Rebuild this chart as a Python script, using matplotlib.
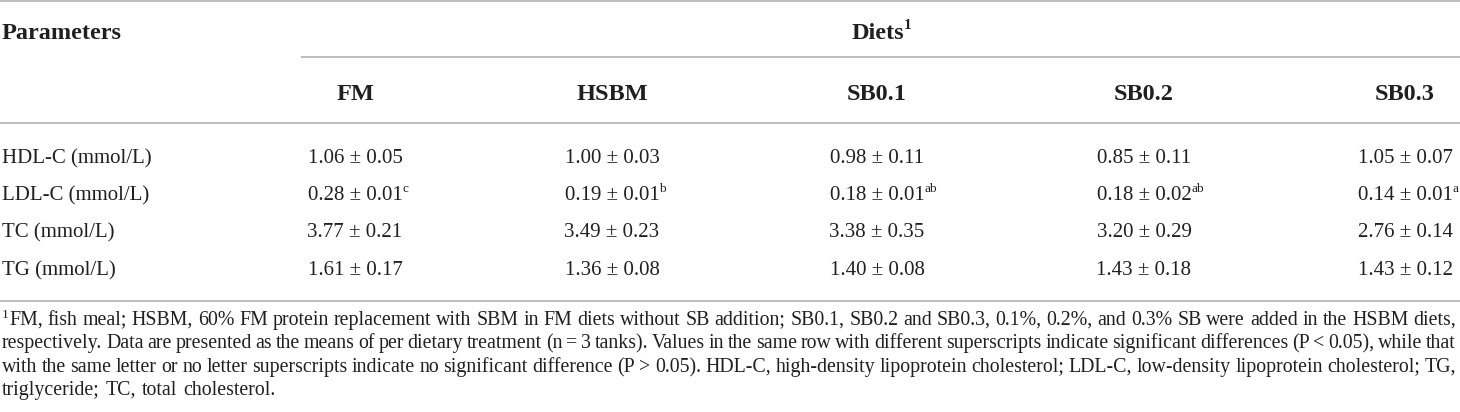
import math
import matplotlib
matplotlib.use("Agg")
import matplotlib.pyplot as plt
from matplotlib.font_manager import FontProperties, findfont, get_font

# ---------------- data ----------------
parameters = ["HDL-C (mmol/L)", "LDL-C (mmol/L)", "TC (mmol/L)", "TG (mmol/L)"]
diets = ["FM", "HSBM", "SB0.1", "SB0.2", "SB0.3"]
means = [
    ["1.06", "1.00", "0.98", "0.85", "1.05"],
    ["0.28", "0.19", "0.18", "0.18", "0.14"],
    ["3.77", "3.49", "3.38", "3.20", "2.76"],
    ["1.61", "1.36", "1.40", "1.43", "1.43"],
]
sds = [
    ["0.05", "0.03", "0.11", "0.11", "0.07"],
    ["0.01", "0.01", "0.01", "0.02", "0.01"],
    ["0.21", "0.23", "0.35", "0.29", "0.14"],
    ["0.17", "0.08", "0.08", "0.18", "0.12"],
]
letters = [
    ["", "", "", "", ""],
    ["c", "b", "ab", "ab", "a"],
    ["", "", "", "", ""],
    ["", "", "", "", ""],
]
header_left = "Parameters"
header_group = "Diets"
footnote_lines = [
    "FM, fish meal; HSBM, 60% FM protein replacement with SBM in FM diets without SB addition; SB0.1, SB0.2 and SB0.3, 0.1%, 0.2%, and 0.3% SB were added in the HSBM diets,",
    "respectively. Data are presented as the means of per dietary treatment (n = 3 tanks). Values in the same row with different superscripts indicate significant differences (P < 0.05), while that",
    "with the same letter or no letter superscripts indicate no significant difference (P > 0.05). HDL-C, high-density lipoprotein cholesterol; LDL-C, low-density lipoprotein cholesterol; TG,",
    "triglyceride; TC, total cholesterol.",
]

# ---------------- layout ----------------
W, H = 1460, 412
FONT = "Liberation Serif"
TXT = "#231f20"
LINE = "#b8b8b8"
REG = 15
BOLD = 17.5
SUP = 9.5
FOOT = 14.35

fig = plt.figure(figsize=(W / 100, H / 100), dpi=100)
ax = fig.add_axes([0, 0, 1, 1])
ax.set_xlim(0, W)
ax.set_ylim(H, 0)
ax.axis("off")
renderer = fig.canvas.get_renderer()


def text_width(s, size, weight="normal"):
    t = ax.text(0, 0, s, fontsize=size, family=FONT, fontweight=weight)
    bb = t.get_window_extent(renderer)
    t.remove()
    return bb.width


def baseline_fix(s, size):
    """Small vertical nudge so that separately drawn words share one pixel baseline."""
    try:
        from matplotlib.backends.backend_agg import get_hinting_flag
        font = get_font(findfont(FontProperties(family=FONT)))
        font.clear()
        font.set_size(size, 100)
        font.set_text(s, 0.0, flags=get_hinting_flag())
        w, h = font.get_width_height()
        d = font.get_descent()
        ymax = h - d
        return (h // 64) - (ymax // 64) - d / 64.0
    except Exception:
        return 0.0


# horizontal rules
for x0, x1, y in [(0, W, 1), (301, W, 57), (0, W, 123), (0, W, 301)]:
    ax.plot([x0, x1], [y, y], color=LINE, lw=1.3, solid_capstyle="butt")

col_centers = [355, 612, 877, 1144, 1405]

# header
ax.text(2, 39, header_left, fontsize=BOLD, fontweight="bold", family=FONT,
        color=TXT, ha="left", va="baseline")
dw = text_width(header_group, BOLD, "bold")
dx = 878 - dw / 2
ax.text(dx, 39, header_group, fontsize=BOLD, fontweight="bold", family=FONT,
        color=TXT, ha="left", va="baseline")
ax.text(dx + dw - 1, 29, "1", fontsize=SUP + 1.5, fontweight="bold", family=FONT,
        color=TXT, ha="left", va="baseline")
for name, cx in zip(diets, col_centers):
    ax.text(cx, 100, name, fontsize=BOLD, fontweight="bold", family=FONT,
            color=TXT, ha="center", va="baseline")

# body
row_base = [163, 200, 237, 275]
for i, p in enumerate(parameters):
    y = row_base[i]
    ax.text(2, y, p, fontsize=REG, family=FONT, color=TXT, ha="left", va="baseline")
    for j, cx in enumerate(col_centers):
        s = f"{means[i][j]} \u00b1 {sds[i][j]}"
        w = text_width(s, REG)
        ax.text(cx, y, s, fontsize=REG, family=FONT, color=TXT,
                ha="center", va="baseline")
        if letters[i][j]:
            ax.text(cx + w / 2, y - 8, letters[i][j], fontsize=SUP,
                    family=FONT, color=TXT, ha="left", va="baseline")

# footnote (justified word by word)
foot_base = [325, 348, 372, 395]
left, right = 2, 1456
for k, line in enumerate(footnote_lines):
    y = foot_base[k]
    x0 = left
    if k == 0:
        ax.text(x0, y - 7, "1", fontsize=SUP, family=FONT, color=TXT,
                ha="left", va="baseline")
        x0 += text_width("1", SUP) + 0.5
    words = line.split(" ")
    widths = [text_width(w_, FOOT) for w_ in words]
    if k < len(footnote_lines) - 1:
        gap = (right - x0 - sum(widths)) / (len(words) - 1)
    else:
        gap = text_width("a a", FOOT) - 2 * text_width("a", FOOT) + 1
    x = x0
    for w_, ww in zip(words, widths):
        ax.text(x, y + baseline_fix(w_, FOOT), w_, fontsize=FOOT, family=FONT,
                color=TXT, ha="left", va="baseline")
        x += ww + gap

fig.savefig("out.png", dpi=100)
